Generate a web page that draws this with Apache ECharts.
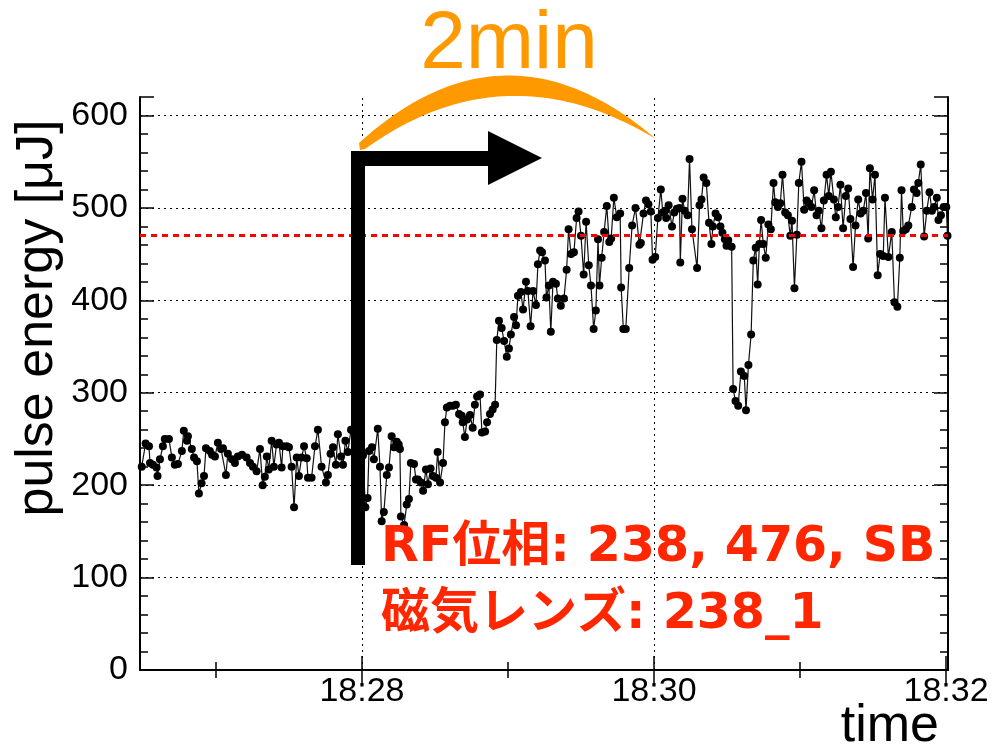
<!DOCTYPE html>
<html>
<head>
<meta charset="utf-8">
<script src="https://cdn.jsdelivr.net/npm/echarts@6/dist/echarts.min.js"></script>
<style>
  html, body { margin: 0; padding: 0; background: #fff; }
  #chart { width: 992px; height: 750px; }
</style>
</head>
<body>
<div id="chart"></div>
<script>
// Pulse energy log: time in seconds after 18:26:00, energy in µJ
const times = [
  29.5, 31.1, 32.5, 32.9, 34.1, 35.6, 36.0, 37.0, 38.2, 39.0, 40.7, 41.9, 43.1, 44.4, 46.0, 46.8,
  48.1, 48.5, 50.1, 51.0, 52.2, 53.0, 54.1, 55.1, 55.9, 57.5, 58.4, 59.6, 60.8, 62.1, 62.9, 64.1,
  64.9, 66.6, 67.8, 69.0, 70.7, 72.6, 74.0, 75.2, 76.7, 78.1, 79.2, 80.1, 80.9, 81.7, 82.9, 83.8,
  84.9, 85.9, 87.0, 87.5, 89.1, 90.0, 91.1, 92.1, 93.2, 94.1, 95.2, 96.2, 97.3, 97.8, 99.3, 100.7,
  101.9, 103.4, 105.2, 106.0, 107.1, 108.1, 109.3, 110.1, 111.4, 112.2, 113.2, 114.2, 115.5, 117.1, 118.8, 120.4,
  121.4, 122.3, 122.9, 124.1, 124.9, 126.5, 127.4, 128.1, 129.0, 130.2, 131.1, 132.2, 133.2, 134.3, 135.1, 135.6,
  136.0, 137.3, 138.4, 139.3, 140.1, 141.4, 142.2, 143.0, 144.2, 145.1, 146.3, 147.1, 148.2, 149.2, 150.4, 151.1,
  152.1, 153.3, 154.1, 154.9, 156.2, 157.4, 158.6, 159.9, 161.0, 161.4, 162.3, 163.2, 164.4, 165.5, 166.4, 167.3,
  168.5, 169.3, 170.6, 171.4, 172.6, 173.7, 174.7, 175.4, 176.3, 177.4, 178.4, 179.5, 180.4, 181.2, 182.5, 183.3,
  184.1, 185.3, 186.2, 187.4, 188.2, 189.3, 190.3, 191.5, 192.3, 193.2, 194.0, 195.2, 195.8, 196.8, 197.6, 198.5,
  199.7, 200.5, 201.7, 203.0, 204.1, 204.9, 205.9, 207.1, 208.2, 209.0, 210.0, 211.1, 212.1, 213.2, 214.1, 215.2,
  216.1, 217.0, 217.6, 218.5, 219.5, 220.6, 221.6, 222.4, 223.5, 224.7, 226.1, 226.5, 227.4, 228.4, 229.8, 231.0,
  232.4, 234.0, 234.6, 235.7, 236.7, 237.7, 238.7, 239.4, 240.5, 241.6, 242.8, 243.6, 244.6, 245.0, 246.0, 247.4,
  248.3, 249.4, 250.5, 250.8, 251.7, 252.6, 253.8, 254.6, 255.6, 257.7, 258.7, 259.5, 260.4, 261.5, 262.6, 263.6,
  264.2, 265.3, 266.3, 267.3, 268.1, 269.1, 269.8, 270.5, 271.9, 272.5, 273.5, 274.6, 275.7, 277.1, 277.8, 278.8,
  279.9, 280.8, 281.8, 282.6, 283.3, 284.0, 284.9, 285.9, 287.0, 288.0, 289.1, 289.8, 290.9, 291.9, 292.8, 293.9,
  295.0, 296.0, 296.7, 297.7, 298.7, 299.5, 300.6, 301.7, 302.7, 303.6, 304.7, 305.8, 306.8, 307.7, 308.8, 309.8,
  310.9, 311.8, 312.7, 313.9, 314.7, 315.6, 316.6, 317.7, 318.8, 319.8, 320.7, 321.8, 322.8, 323.9, 324.9, 326.0,
  327.1, 328.0, 328.7, 329.8, 330.8, 331.9, 332.9, 334.2, 334.9, 336.3, 337.7, 338.8, 340.0, 341.0, 341.7, 342.4,
  343.5, 344.5, 345.9, 346.8, 347.9, 348.6, 349.6, 351.0, 352.1, 353.2, 354.2, 355.1, 356.2, 356.9, 357.9, 359.0,
  360.1, 360.6
];
const energy = [
  220, 245, 242, 224, 222, 219, 210, 228, 242, 250, 250, 230, 222, 223, 237, 259,
  248, 253, 239, 230, 226, 191, 202, 210, 240, 237, 233, 231, 246, 239, 240, 211,
  234, 228, 224, 231, 233, 230, 224, 220, 215, 239, 200, 209, 231, 217, 248, 220,
  244, 246, 219, 242, 242, 241, 220, 176, 230, 210, 230, 242, 229, 208, 208, 242,
  260, 220, 203, 211, 234, 241, 222, 255, 231, 222, 248, 236, 260, 245, 252, 232,
  176, 186, 237, 241, 228, 261, 220, 161, 171, 211, 219, 253, 241, 247, 244, 239,
  166, 157, 179, 185, 224, 223, 206, 206, 203, 194, 217, 201, 218, 210, 208, 236,
  203, 224, 268, 284, 286, 286, 287, 277, 275, 268, 252, 271, 276, 262, 287, 296,
  298, 257, 258, 268, 277, 282, 287, 357, 378, 370, 356, 339, 348, 363, 382, 373,
  405, 409, 390, 420, 410, 372, 410, 395, 439, 454, 452, 443, 403, 416, 366, 420,
  418, 402, 394, 402, 433, 477, 450, 452, 489, 496, 470, 428, 485, 438, 416, 369,
  389, 466, 416, 446, 474, 502, 463, 467, 511, 490, 494, 414, 369, 369, 435, 481,
  500, 460, 462, 494, 508, 504, 496, 444, 447, 489, 520, 495, 497, 489, 503, 480,
  495, 499, 500, 441, 510, 497, 492, 553, 477, 435, 503, 509, 533, 527, 484, 461,
  480, 494, 490, 480, 473, 466, 459, 465, 458, 304, 291, 286, 323, 318, 281, 330,
  363, 443, 457, 417, 461, 487, 461, 446, 482, 477, 527, 506, 501, 505, 536, 495,
  492, 470, 486, 413, 471, 527, 550, 498, 508, 505, 501, 519, 492, 497, 478, 508,
  536, 513, 539, 509, 490, 501, 525, 478, 513, 521, 488, 436, 481, 509, 494, 497,
  516, 467, 543, 509, 536, 427, 450, 448, 511, 447, 474, 398, 393, 446, 519, 475,
  477, 481, 501, 520, 516, 527, 547, 469, 497, 517, 497, 501, 511, 487, 492, 501,
  501, 470
];

// Axis layout values
const timeMin = 28.8;          // 18:26:28.8
const timeMax = 360.8;         // 18:32:00.8
const timeMajor = [120, 240, 360];   // 18:28, 18:30, 18:32
const timeMinor = [60, 180, 300];    // 18:27, 18:29, 18:31
const gridTimes = [120, 240];
const energyMin = 0;
const energyMax = 620;
const gridEnergies = [100, 200, 300, 400, 500, 600];
const referenceEnergy = 470;

const chart = echarts.init(document.getElementById('chart'), null, { renderer: 'canvas' });

const points = times.map((t, i) => [t, energy[i]]);
const clock = v => {
  const m = 26 + Math.floor(v / 60);
  return '18:' + String(m).padStart(2, '0');
};

// Quadratic curve sampling for the brush-stroke arc
function quad(p0, c, p2, n) {
  const out = [];
  for (let i = 0; i <= n; i++) {
    const t = i / n, u = 1 - t;
    out.push([u * u * p0[0] + 2 * u * t * c[0] + t * t * p2[0],
              u * u * p0[1] + 2 * u * t * c[1] + t * t * p2[1]]);
  }
  return out;
}
const arcShape = quad([359, 143], [505, 10], [656, 139], 60)
  .concat(quad([656, 139], [505, 48], [365, 149], 60))
  .concat([[360, 150]]);

const labelFont = { fontFamily: "'Liberation Sans', Arial, sans-serif", fontSize: 34, color: '#000' };
const frameLine = { show: true, lineStyle: { color: '#000', width: 2 } };
const dotted = { color: '#000', width: 1, type: [2, 4] };

function xAxisDef(position, ticks, length, withLine, withLabels) {
  return {
    type: 'value', position, min: timeMin, max: timeMax,
    axisLine: withLine ? frameLine : { show: false },
    axisTick: { show: true, inside: true, length, customValues: ticks, lineStyle: { color: '#000', width: 1.5 } },
    axisLabel: withLabels
      ? Object.assign({ show: true, margin: 5, customValues: ticks, formatter: clock }, labelFont)
      : { show: false },
    splitLine: { show: false }
  };
}

function yAxisDef(position, interval, length, withLine, withLabels) {
  return {
    type: 'value', position, min: energyMin, max: energyMax, interval,
    axisLine: withLine ? frameLine : { show: false },
    axisTick: { show: true, inside: true, length, lineStyle: { color: '#000', width: 1.5 } },
    axisLabel: withLabels
      ? Object.assign({
          show: true, margin: 12,
          formatter: v => (v % 100 === 0 && v <= 600 ? String(v) : '')
        }, labelFont)
      : { show: false },
    splitLine: { show: false }
  };
}

const option = {
  backgroundColor: '#fff',
  animation: false,
  grid: { left: 140, right: 44, top: 97, bottom: 80, containLabel: false },
  xAxis: [
    xAxisDef('bottom', timeMajor, 14, true, true),
    xAxisDef('bottom', timeMinor, 8, false, false),
    xAxisDef('top', timeMajor, 14, true, false),
    xAxisDef('top', timeMinor, 8, false, false)
  ],
  yAxis: [
    yAxisDef('left', 20, 8, true, true),
    yAxisDef('left', 100, 14, false, false),
    yAxisDef('right', 20, 8, true, false),
    yAxisDef('right', 100, 14, false, false)
  ],
  series: [
    {
      // dotted grid and the reference level, kept beneath the data
      type: 'line', data: [], z: 1, silent: true,
      markLine: {
        silent: true, symbol: 'none', animation: false,
        label: { show: false },
        lineStyle: dotted,
        data: gridEnergies.map(v => ({ yAxis: v }))
          .concat(gridTimes.map(t => ({ xAxis: t })))
          .concat([{ yAxis: referenceEnergy, lineStyle: { color: '#ff0000', width: 3, type: [6, 5] } }])
      }
    },
    {
      type: 'line', data: points, z: 3,
      symbol: 'circle', symbolSize: 8, showAllSymbol: true,
      itemStyle: { color: '#000' },
      lineStyle: { color: '#111', width: 1.2 },
      clip: true
    }
  ],
  graphic: [
    // axis titles
    {
      type: 'text', x: 38, y: 318, rotation: Math.PI / 2, z: 10,
      style: { text: 'pulse energy [μJ]', font: "52px 'Liberation Sans', Arial, sans-serif",
               fill: '#000', align: 'center', verticalAlign: 'middle' }
    },
    {
      type: 'text', x: 939, y: 727, z: 10,
      style: { text: 'time', font: "52px 'Liberation Sans', Arial, sans-serif",
               fill: '#000', align: 'right', verticalAlign: 'middle' }
    },
    // start marker with arrow
    { type: 'rect', z: 20, shape: { x: 351, y: 151, width: 14, height: 414 }, style: { fill: '#000' } },
    { type: 'rect', z: 20, shape: { x: 351, y: 151, width: 140, height: 15 }, style: { fill: '#000' } },
    { type: 'polygon', z: 20, shape: { points: [[488, 131], [542, 158], [488, 185]] }, style: { fill: '#000' } },
    // brush stroke arc over the 2 minute span
    { type: 'polygon', z: 20, shape: { points: arcShape }, style: { fill: '#ff9900' } },
    {
      type: 'text', x: 509, y: 45, z: 20,
      style: { text: '2min', font: "82px 'Liberation Sans', Arial, sans-serif",
               fill: '#ff9900', align: 'center', verticalAlign: 'middle' }
    },
    // run settings
    {
      type: 'text', x: 381, y: 548, z: 20,
      style: { text: 'RF位相: 238, 476, SB',
               font: "bold 49px 'DejaVu Sans', 'Noto Sans CJK JP', sans-serif",
               fill: '#ff2600', align: 'left', verticalAlign: 'middle' }
    },
    {
      type: 'text', x: 381, y: 615, z: 20,
      style: { text: '磁気レンズ: 238_1',
               font: "bold 49px 'DejaVu Sans', 'Noto Sans CJK JP', sans-serif",
               fill: '#ff2600', align: 'left', verticalAlign: 'middle' }
    }
  ]
};

chart.setOption(option);
</script>
</body>
</html>
